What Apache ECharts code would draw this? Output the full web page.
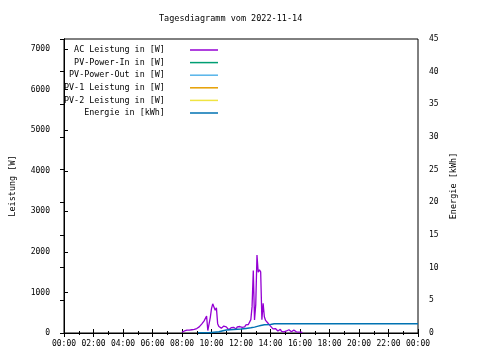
<!DOCTYPE html>
<html>
<head>
<meta charset="utf-8">
<script src="https://cdn.jsdelivr.net/npm/echarts@6/dist/echarts.min.js"></script>
<style>html,body{margin:0;padding:0;background:#fff}#c{width:480px;height:360px}</style>
</head>
<body>
<div id="c"></div>
<script>
const titleText = 'Tagesdiagramm vom 2022-11-14';
const seriesNames = ['AC Leistung in [W]', 'PV-Power-In in [W]', 'PV-Power-Out in [W]', 'PV-1 Leistung in [W]', 'PV-2 Leistung in [W]', 'Energie in [kWh]'];
const xTickLabels = ['00:00','02:00','04:00','06:00','08:00','10:00','12:00','14:00','16:00','18:00','20:00','22:00','00:00'];

const acTimes = ['08:00','08:05','08:10','08:15','08:20','08:25','08:30','08:35','08:40','08:45','08:50','08:55',
 '09:00','09:05','09:10','09:15','09:20','09:25','09:30','09:35','09:40','09:45','09:50','09:55',
 '10:00','10:05','10:10','10:15','10:20','10:25','10:30','10:35','10:40','10:45','10:50','10:55',
 '11:00','11:05','11:10','11:15','11:20','11:25','11:30','11:35','11:40','11:45','11:50','11:55',
 '12:00','12:05','12:10','12:15','12:20','12:25','12:30','12:35','12:40','12:45','12:50','12:55',
 '13:00','13:05','13:10','13:15','13:20','13:25','13:30','13:35','13:40','13:45','13:50','13:55',
 '14:00','14:05','14:10','14:15','14:20','14:25','14:30','14:35','14:40','14:45','14:50','14:55',
 '15:00','15:05','15:10','15:15','15:20','15:25','15:30','15:35','15:40','15:45','15:50','15:55',
 '16:00','16:05','16:10'];
const acPower = [20,30,50,40,70,60,70,50,80,70,90,80,
 110,130,150,180,220,260,300,340,420,60,40,380,
 600,720,760,560,620,230,160,140,120,130,170,190,
 150,120,80,110,130,90,140,120,100,150,130,160,
 170,140,180,150,200,170,210,240,330,650,1540,320,
 700,1920,1500,1560,1510,330,730,400,310,270,240,220,
 170,130,100,80,110,70,50,60,90,40,60,30,
 70,50,40,80,60,30,50,70,40,30,50,20,
 40,20,10];

const pvInPower = [];
const pvOutPower = [];
const pv1Power = [];
const pv2Power = [];

const energyTimes = ['09:05','09:50','09:55','10:30','10:35','11:00','11:30','12:00','12:20','12:40','12:55','13:10','13:20','13:35','14:00','14:15','24:00'];
const energyKWh = [0.05,0.05,0.2,0.2,0.4,0.45,0.55,0.6,0.7,0.8,0.9,1.05,1.15,1.25,1.3,1.4,1.4];

function toHours(t){ const p = t.split(':'); return +p[0] + (+p[1])/60; }
function pairs(times, vals){ return times.map((t,i)=>[toHours(t), vals[i]]); }

const FONT = 'DejaVu Sans Mono';
const colors = ['#9400d3','#009e73','#56b4e9','#e69f00','#f0e442','#0072b2'];

const chart = echarts.init(document.getElementById('c'), null, {renderer:'canvas'});
const axisLine = {show:true, lineStyle:{color:'#000', width:1}};
chart.setOption({
  animation:false,
  backgroundColor:'#fff',
  color: colors,
  title:{text:titleText, left:154, top:9, textStyle:{fontFamily:FONT, fontSize:8.5, fontWeight:'normal', color:'#000'}},
  legend:{
    orient:'vertical', left:59, top:40, align:'right', itemWidth:28, itemHeight:1.5, itemGap:2.6,
    icon:'rect',
    data: seriesNames,
    formatter: n => n + '    ',
    textStyle:{fontFamily:FONT, fontSize:8.4, lineHeight:10, color:'#000'}
  },
  grid:{left:58, right:62, top:39, bottom:27, show:true, borderColor:'#000', borderWidth:1, backgroundColor:'transparent'},
  xAxis:[{
    type:'value', min:0, max:24, interval:2, position:'bottom',
    axisLine, splitLine:{show:false},
    axisTick:{show:true, inside:true, length:4, lineStyle:{color:'#000'}},
    minorTick:{show:true, splitNumber:2, length:2, lineStyle:{color:'#000'}},
    axisLabel:{margin:7, fontFamily:FONT, fontSize:8, color:'#000', formatter:(v)=>xTickLabels[Math.round(v/2)]}
  },{
    type:'value', min:0, max:24, interval:2, position:'top',
    axisLine, splitLine:{show:false},
    axisTick:{show:true, inside:true, length:4, lineStyle:{color:'#000'}},
    minorTick:{show:true, splitNumber:2, length:2, lineStyle:{color:'#000'}},
    axisLabel:{show:false}
  }],
  yAxis:[{
    type:'value', min:0, max:7250, interval:1000, position:'left',
    name:'Leistung [W]', nameLocation:'middle', nameGap:47, nameRotate:90,
    nameTextStyle:{fontFamily:FONT, fontSize:8.5, color:'#000'},
    axisLine, splitLine:{show:false},
    axisTick:{show:true, inside:true, length:4, lineStyle:{color:'#000'}},
    axisLabel:{margin:14, fontFamily:FONT, fontSize:8, color:'#000', showMaxLabel:false, formatter:(v)=>String(v)}
  },{
    type:'value', min:0, max:45, interval:5, position:'right',
    name:'Energie [kWh]', nameLocation:'middle', nameGap:27, nameRotate:90,
    nameTextStyle:{fontFamily:FONT, fontSize:8.5, color:'#000'},
    axisLine, splitLine:{show:false},
    axisTick:{show:true, inside:true, length:4, lineStyle:{color:'#000'}},
    axisLabel:{margin:11, fontFamily:FONT, fontSize:8, color:'#000', formatter:(v)=>String(v)}
  }],
  series:[
    {name:seriesNames[0], type:'line', symbol:'none', xAxisIndex:0, yAxisIndex:0, lineStyle:{width:1.3}, data:pairs(acTimes, acPower), z:5},
    {name:seriesNames[1], type:'line', symbol:'none', yAxisIndex:0, lineStyle:{width:1.2}, data:pvInPower},
    {name:seriesNames[2], type:'line', symbol:'none', yAxisIndex:0, lineStyle:{width:1.2}, data:pvOutPower},
    {name:seriesNames[3], type:'line', symbol:'none', yAxisIndex:0, lineStyle:{width:1.2}, data:pv1Power},
    {name:seriesNames[4], type:'line', symbol:'none', yAxisIndex:0, lineStyle:{width:1.2}, data:pv2Power},
    {name:seriesNames[5], type:'line', symbol:'none', yAxisIndex:1, lineStyle:{width:1.5}, data:pairs(energyTimes, energyKWh), z:6}
  ]
});
</script>
</body>
</html>
